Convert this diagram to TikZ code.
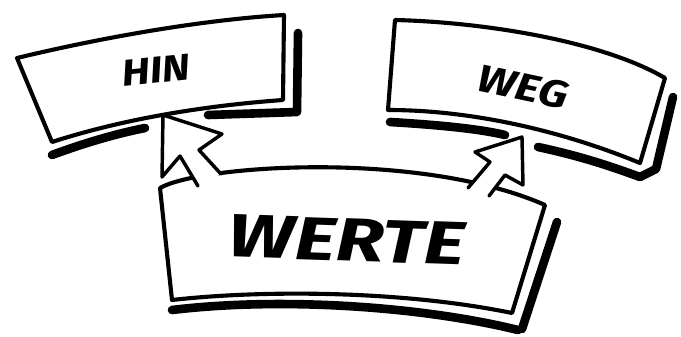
\documentclass[tikz,border=0pt]{standalone}
\usepackage{fontspec}
\setmainfont{Fira Sans}
\usetikzlibrary{positioning}

\begin{document}
\begin{tikzpicture}[
  x=0.0265cm, y=-0.0265cm,
  lbl/.style={font=\fontsize{#1}{#1}\selectfont\bfseries\itshape, inner sep=0pt},
  edge/.style={line width=3.1pt, line join=round, line cap=round},
  shade/.style={line width=6.5pt, line cap=round, line join=round},
  cursor/.style={edge, fill=white, line width=2.6pt}
]
\useasboundingbox (0,0) rectangle (681,337);

% HIN
\draw[edge, fill=white] (17,58) .. controls (100,38) and (200,20) .. (284,15) -- (283,100)
  .. controls (200,106) and (120,120) .. (52,142) -- cycle;
\draw[shade] (52,155) .. controls (90,141) and (120,133) .. (145,128);
\draw[shade] (208,115) -- (297,112) -- (298,33);
\node[lbl=28pt, rotate=6, xscale=1.15] (hin) at (156,70) {HIN};

% WEG
\draw[edge, fill=white] (395,20) .. controls (480,22) and (600,40) .. (665,78) -- (640,163)
  .. controls (560,130) and (470,110) .. (388,110) -- cycle;
\draw[shade] (390,122) .. controls (440,125) and (480,129) .. (505,135);
\draw[shade] (538,147) .. controls (580,156) and (610,166) .. (640,177) -- (656,169) -- (673,97);
\node[lbl=29pt, rotate=-12, xscale=1.2] (weg) at (523,87) {WEG};

% WERTE
\draw[edge, fill=white] (160,188) .. controls (200,165) and (420,150) .. (545,205) -- (512,313)
  .. controls (400,290) and (260,290) .. (172,300) -- cycle;
\draw[shade] (172,310) .. controls (280,297) and (420,306) .. (518,330);
\draw[shade] (522,329) -- (557,222);
\node[lbl=46pt, rotate=-2, xscale=1.3] (werte) at (347,240) {WERTE};

% pointers
\draw[cursor] (198,186) -- (180,156) -- (162,177) -- (163,115) -- (222,134) -- (199,150) -- (221,174);
\draw[cursor] (468,188) -- (490,162) -- (475,152) -- (522,137) -- (523,185) -- (505,175) -- (489,196);
\end{tikzpicture}
\end{document}
